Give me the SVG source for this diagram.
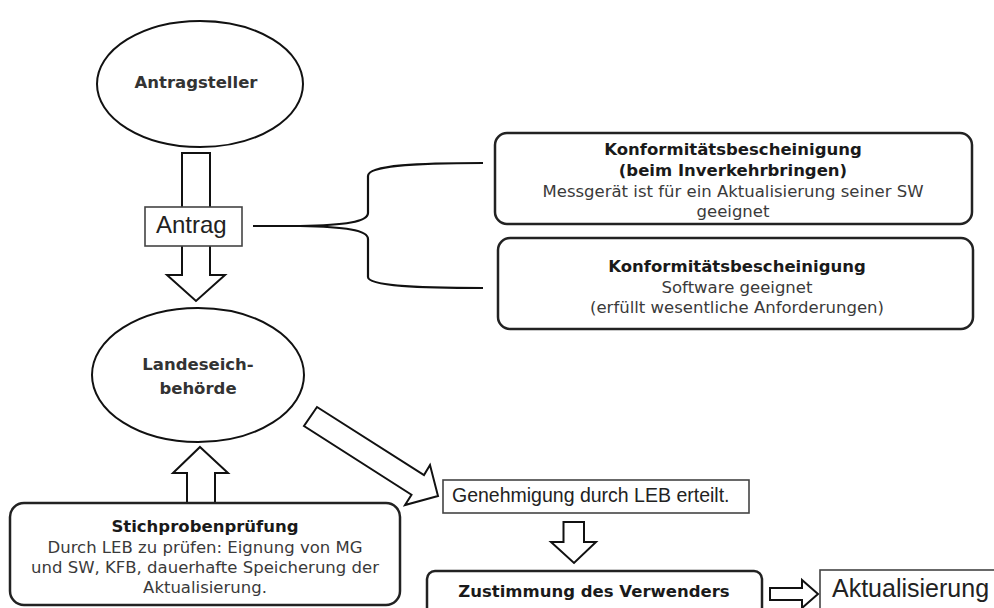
<svg xmlns="http://www.w3.org/2000/svg" width="994" height="608" viewBox="0 0 994 608">
<style>
.shape{fill:#fff;stroke:#111;stroke-width:2}
.box{fill:#fff;stroke:#222;stroke-width:2.5}
.sq{fill:#fff;stroke:#444;stroke-width:1.6}
.arr{fill:#fff;stroke:#111;stroke-width:2;stroke-linejoin:miter}
.brace{fill:none;stroke:#111;stroke-width:2.2}
.b{font-family:"DejaVu Sans",Verdana,sans-serif;font-weight:bold;font-size:16.5px;fill:#1a1a1a;text-anchor:middle}
.r{font-family:"DejaVu Sans",Verdana,sans-serif;font-size:16.5px;fill:#3a3a3a;text-anchor:middle}
.e{font-family:"DejaVu Sans",Verdana,sans-serif;font-weight:bold;font-size:16.5px;fill:#333;text-anchor:middle}
.a{font-family:"Liberation Sans",Arial,sans-serif;fill:#222}
</style>
<rect width="994" height="608" fill="#fff"/>
<g id="connectors">
<polygon class="arr" points="182,153 210,153 210,275 225,275 196,301 167,275 182,275"/>
<path class="brace" d="M483,163 C420,163 368,165 368,176 L368,213 C368,222 345,225 300,226 L253,226 M483,288 C420,288 368,286 368,277 L368,239 C368,230 345,227 300,226"/>
<polygon class="arr" points="200,447 228,473 215,473 215,503 187,503 187,473 173,473"/>
<polygon class="arr" points="317,407 424,475 430,465 438,496 405,505 411.5,494.7 304,426"/>
<polygon class="arr" points="563.5,522 584,522 584,542 596,542 574,563 551,542 563.5,542"/>
<polygon class="arr" points="770,588 802,588 802,580 818,594 802,608 802,600 770,600"/>
</g>
<g id="antragsteller">
<ellipse class="shape" cx="200" cy="84" rx="103" ry="63"/>
<text class="e" x="196" y="88">Antragsteller</text>
</g>
<g id="antrag">
<rect class="sq" x="145" y="207" width="97" height="39"/>
<text class="a" x="156" y="233" font-size="24">Antrag</text>
</g>
<g id="konf1">
<rect class="box" x="495" y="133" width="477" height="91" rx="12"/>
<text class="b" x="733" y="155">Konformitätsbescheinigung</text>
<text class="b" x="733" y="176">(beim Inverkehrbringen)</text>
<text class="r" x="733" y="197">Messgerät ist für ein Aktualisierung seiner SW</text>
<text class="r" x="733" y="217">geeignet</text>
</g>
<g id="konf2">
<rect class="box" x="498" y="238" width="475" height="91" rx="12"/>
<text class="b" x="737" y="272">Konformitätsbescheinigung</text>
<text class="r" x="737" y="293">Software geeignet</text>
<text class="r" x="737" y="313">(erfüllt wesentliche Anforderungen)</text>
</g>
<g id="landeseich">
<ellipse class="shape" cx="198" cy="375" rx="106" ry="67"/>
<text class="e" x="198" y="370">Landeseich-</text>
<text class="e" x="198" y="394">behörde</text>
</g>
<g id="stichprobe">
<rect class="box" x="10" y="503" width="390" height="102" rx="14"/>
<text class="b" x="205" y="532">Stichprobenprüfung</text>
<text class="r" x="205" y="553">Durch LEB zu prüfen: Eignung von MG</text>
<text class="r" x="205" y="573">und SW, KFB, dauerhafte Speicherung der</text>
<text class="r" x="205" y="593">Aktualisierung.</text>
</g>
<g id="genehmigung">
<rect class="sq" x="443" y="480" width="306" height="33"/>
<text class="a" x="452" y="502" font-size="19.5">Genehmigung durch LEB erteilt.</text>
</g>
<g id="zustimmung">
<rect class="box" x="427" y="571" width="335" height="50" rx="8"/>
<text class="b" x="594" y="597">Zustimmung des Verwenders</text>
</g>
<g id="aktualisierung">
<rect class="sq" x="820" y="570" width="200" height="50"/>
<text class="a" x="832" y="597" font-size="25">Aktualisierung</text>
</g>
</svg>
